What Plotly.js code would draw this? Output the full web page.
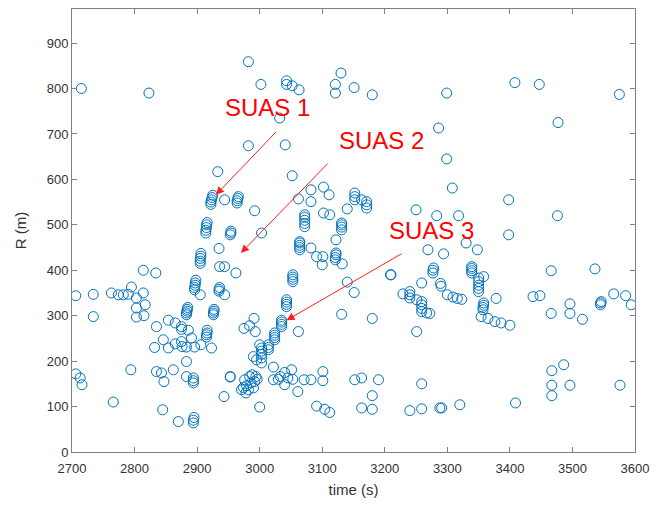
<!DOCTYPE html>
<html>
<head>
<meta charset="utf-8">
<script src="https://cdn.plot.ly/plotly-3.0.1.min.js"></script>
<style>html,body{margin:0;padding:0;background:#fff;}#chart{width:657px;height:513px;}</style>
</head>
<body>
<div id="chart"></div>
<script>
// time (s) values of the detections
const timeS = [
2715,2823,2982,3002,3043,3043,3052,3063,3130,3121,3121,3151,3180,3032,2982,3041,2933,3052,3286,3299,3408,3447,3575,3477,3299,3308,3398,3476,3283,3318,3398,3250,
2922,2922,2923,2924,2925,2944,2964,2964,2965,2966,2992,2914,2914,2915,2915,2916,2953,2954,2954,3003,2935,2905,2905,2905,2906,2906,2936,2944,2962,2834,2814,
2896,2896,2897,2897,2898,2905,2935,2935,2936,2944,2883,2883,2884,2884,2885,2926,2926,2927,2927,2915,2915,2916,2916,
3062,3082,3102,3111,3082,3152,3152,3152,3163,3171,3171,3171,3140,3102,3112,3072,3072,3072,3072,3072,3131,3131,3131,3131,3122,3064,3064,3064,3064,3064,3082,3091,3101,3100,3121,3121,3122,3122,3132,3053,3053,3053,3053,3140,3151,3210,3131,3180,3269,
3043,3043,3043,3043,3035,3035,3035,3035,3024,3024,3024,3024,3014,3014,3014,3003,3003,3003,3003,2995,3062,2975,2984,2993,2991,3000,2990,3003,
2706,2734,2734,2763,2774,2782,2790,2795,2803,2814,2803,2817,2815,2803,2706,2713,2716,2766,2794,2835,2854,2865,2875,2875,2886,2846,2832,2854,2865,2875,2876,2883,2896,2906,2923,2891,2835,2843,2847,2862,2883,2883,2894,2894,2894,2845,2870,2894,2894,2895,2953,2943,3000,
2971,2974,2976,2979,2982,2984,2986,2988,2990,2992,2994,2996,2978,2953,
3022,3022,3030,3033,3040,3040,3045,3051,3053,3071,3082,3101,3101,3061,3091,3104,3112,3152,3163,3190,3180,3163,3180,3240,3259,3259,3288,
3209,3229,3240,3240,3240,3251,3259,3259,3259,3259,3267,3251,3259,3277,3277,3278,3289,3290,3300,3309,3316,3323,3294,3330,3348,3339,3339,3339,3339,3350,3358,3350,3350,3350,3350,3357,3357,3358,3358,3354,3365,3376,3386,3400,3378,3272,3437,3448,3466,3466,3496,3496,3516,3536,3545,3545,3546,3566,3585,3594,3486,3467,3467,3467,3496,3576,3291,3320,3409
];
// range R (m) of the detections
const rangeM = [
800,790,859,809,817,809,806,797,834,809,790,802,786,735,674,676,617,608,713,790,813,809,787,725,645,581,555,520,520,520,478,533,
545,550,555,560,565,555,548,553,558,562,531,482,488,494,500,505,478,482,486,482,448,415,420,426,431,437,408,408,394,394,400,
357,362,367,372,378,346,354,358,362,346,302,306,310,314,318,302,306,310,314,253,258,262,268,
557,577,583,566,551,555,562,570,555,537,544,551,535,526,522,496,503,510,517,522,489,495,500,504,467,445,450,455,460,463,449,430,430,412,423,428,434,438,414,375,380,385,390,374,351,390,303,294,445,
320,325,330,335,276,281,286,290,247,252,257,262,225,230,236,207,215,222,229,203,265,272,278,265,294,236,210,196,
344,347,298,350,346,346,347,363,339,350,317,324,300,297,172,163,148,110,181,276,290,284,270,276,268,247,230,229,238,243,232,231,231,236,229,251,177,174,155,181,199,166,152,157,163,93,67,64,70,76,166,122,99,
137,142,159,146,137,166,152,170,141,155,166,160,130,165,
187,159,160,166,175,148,163,181,160,159,159,177,157,133,101,94,87,159,163,159,124,97,94,91,95,150,97,
390,348,339,346,353,335,309,316,324,331,306,265,372,394,400,405,371,365,346,341,338,336,436,460,445,394,399,404,408,383,386,353,360,367,375,313,318,323,328,298,294,287,284,279,338,305,342,344,399,305,326,305,292,403,324,328,331,348,344,324,192,179,147,124,147,147,97,104,108
];
// annotation labels and where they point (time, R)
const labels = ["SUAS 1", "SUAS 2", "SUAS 3"];
const labelPos = [[3012, 759], [3194, 685], [3274, 487]];
const arrowTail = [[3028, 707], [3111, 638], [3229, 438]];
const arrowHead = [[2930, 566], [2970, 438], [3043, 290]];
const xTicks = [2700, 2800, 2900, 3000, 3100, 3200, 3300, 3400, 3500, 3600];
const yTicks = [0, 100, 200, 300, 400, 500, 600, 700, 800, 900];

const trace = {
  x: timeS, y: rangeM, type: 'scatter', mode: 'markers',
  marker: {symbol: 'circle-open', size: 10, color: '#0072BD', line: {width: 1, color: '#0072BD'}},
  hoverinfo: 'skip'
};

const annotations = [];
labels.forEach((txt, i) => {
  annotations.push({
    x: labelPos[i][0], y: labelPos[i][1], xref: 'x', yref: 'y', text: txt, showarrow: false,
    font: {family: 'Liberation Sans, Arial, sans-serif', size: 24, color: '#ff0000'}
  });
  annotations.push({
    x: arrowHead[i][0], y: arrowHead[i][1], xref: 'x', yref: 'y',
    ax: arrowTail[i][0], ay: arrowTail[i][1], axref: 'x', ayref: 'y',
    text: '', showarrow: true, arrowhead: 2, arrowsize: 1.6, arrowwidth: 1, arrowcolor: '#ff2020', standoff: 0
  });
});

const axisCommon = {
  showline: true, mirror: 'ticks', linecolor: '#808080', linewidth: 1,
  ticks: 'inside', ticklen: 5, tickcolor: '#808080', showgrid: false, zeroline: false,
  tickfont: {family: 'Liberation Sans, Arial, sans-serif', size: 13, color: '#333333'}
};

const layout = {
  width: 657, height: 513,
  margin: {l: 72, r: 22, t: 9, b: 61},
  paper_bgcolor: '#ffffff', plot_bgcolor: '#ffffff',
  showlegend: false,
  xaxis: Object.assign({}, axisCommon, {
    range: [2700, 3600], tickvals: xTicks, ticktext: xTicks.map(String), ticklabelstandoff: 4,
    title: {text: 'time (s)', font: {family: 'Liberation Sans, Arial, sans-serif', size: 15, color: '#333333'}, standoff: 9}
  }),
  yaxis: Object.assign({}, axisCommon, {
    range: [0, 975], tickvals: yTicks, ticktext: yTicks.map(String),
    title: {text: 'R (m)', font: {family: 'Liberation Sans, Arial, sans-serif', size: 15, color: '#333333'}, standoff: 16}
  }),
  annotations: annotations
};

Plotly.newPlot('chart', [trace], layout, {displayModeBar: false, staticPlot: true});
</script>
</body>
</html>
